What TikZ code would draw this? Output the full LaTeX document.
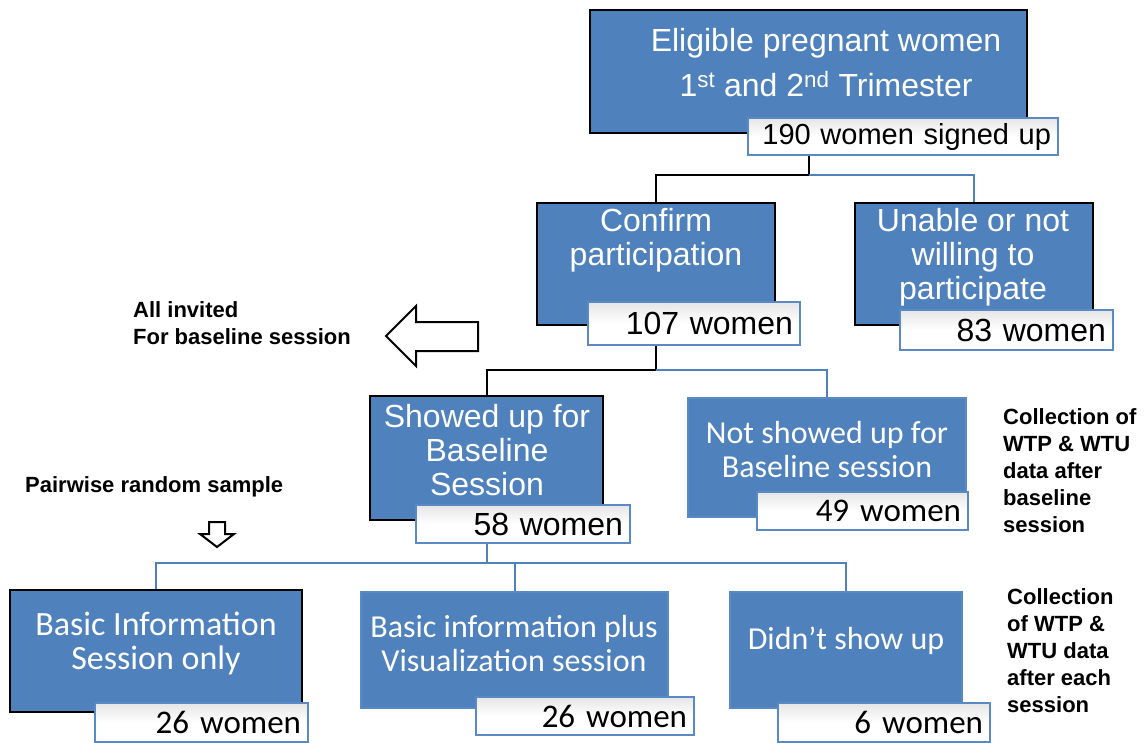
\documentclass[tikz,border=0pt]{standalone}
\usepackage{fontspec}
\setmainfont{Liberation Sans}
\newfontfamily\calfont{Carlito}
\definecolor{obl}{HTML}{4F81BD}
\definecolor{lbl}{HTML}{5A8AC6}
\begin{document}
\begin{tikzpicture}[x=1pt,y=-1pt,
  box/.style={rectangle, draw=lbl, line width=1.2pt, fill=obl, inner sep=0pt},
  bbox/.style={box, draw=black, line width=2.4pt},
  lab/.style={rectangle, draw=lbl, line width=2pt, top color=black!10, bottom color=white, middle color=white, inner xsep=7pt, inner ysep=0pt, align=right},
  wt/.style={text=white, align=center, inner sep=0pt},
  arial/.style={font=\fontsize{32}{34}\selectfont},
  calib/.style={font=\calfont\fontsize{32}{34}\selectfont},
  side/.style={font=\fontsize{22}{27}\selectfont\bfseries, align=left, inner sep=0pt, anchor=west},
  blk/.style={draw=black, line width=2pt},
  bln/.style={draw=obl, line width=2pt},
  hollow/.style={draw=black, line width=2pt, fill=white, line join=miter}
]
\useasboundingbox (0,0) rectangle (1147,742);

% boxes
\node[bbox, minimum width=437pt, minimum height=123pt] (top) at (808.5,71.5) {};
\node[bbox, minimum width=238pt, minimum height=122pt] (confirm) at (656,264) {};
\node[bbox, minimum width=238pt, minimum height=122pt] (unable) at (974,264) {};
\node[bbox, minimum width=233pt, minimum height=124pt] (showed) at (486.5,458) {};
\node[box, minimum width=278pt, minimum height=119pt] (notshow) at (827,457.5) {};
\node[bbox, minimum width=292pt, minimum height=122pt] (basic) at (156,651) {};
\node[box, minimum width=307pt, minimum height=116pt] (middle) at (514.5,650) {};
\node[box, minimum width=232pt, minimum height=116pt] (didnt) at (846,650) {};

% box texts
\node[wt, font=\fontsize{32}{45}\selectfont] (ttop) at (826,63) {Eligible pregnant women\\1\textsuperscript{st} and 2\textsuperscript{nd} Trimester};
\node[wt, arial] (tconfirm) at (656,240) {Confirm\\participation};
\node[wt, arial] (tunable) at (973,257) {Unable or not\\willing to\\participate};
\node[wt, arial] (tshowed) at (487,450) {Showed up for\\Baseline\\Session};
\node[wt, calib] (tnotshow) at (827,449) {Not showed up for\\Baseline session};
\node[wt, font=\calfont\fontsize{34}{34}\selectfont] (tbasic) at (156,643) {Basic Information\\Session only};
\node[wt, calib] (tmiddle) at (514,643) {Basic information plus\\Visualization session};
\node[wt, calib] (tdidnt) at (846,641) {Didn’t show up};

% count labels
\node[lab, text width=296pt, minimum height=37pt, font=\fontsize{29}{30}\selectfont] (l190) at (903,136.5) {190 women signed up};
\node[lab, text width=198pt, minimum height=43pt, arial] (l107) at (694,323.5) {107 women};
\node[lab, text width=199pt, minimum height=40pt, arial] (l83) at (1006.5,330) {83 women};
\node[lab, text width=200pt, minimum height=38pt, arial] (l58) at (523,524) {58 women};
\node[lab, text width=197pt, minimum height=38pt, font=\calfont\fontsize{33}{34}\selectfont] (l49) at (862.5,511) {49 women};
\node[lab, text width=199pt, minimum height=39pt, font=\calfont\fontsize{33}{34}\selectfont] (l26a) at (201.5,722.5) {26 women};
\node[lab, text width=204pt, minimum height=38pt, font=\calfont\fontsize{33}{34}\selectfont] (l26b) at (585,716) {26 women};
\node[lab, text width=198pt, minimum height=39pt, font=\calfont\fontsize{33}{34}\selectfont] (l6) at (884,722.5) {6 women};

% connectors
\coordinate (j1) at (top.south |- 0,175);
\draw[blk] (l190.south -| top.south) -- (j1) -| (confirm.north);
\draw[bln] (j1) -| (unable.north);
\coordinate (j2) at (confirm.south |- 0,370);
\draw[blk] (l107.south -| confirm.south) -- (j2) -| (showed.north);
\draw[bln] (j2) -| (notshow.north);
\coordinate (j3) at (showed.south |- 0,563);
\draw[bln] (l58.south -| showed.south) -- (j3) -| (basic.north);
\draw[bln] (j3) -| (middle.north);
\draw[bln] (j3) -| (didnt.north);

% hollow arrows
\draw[hollow] (386,336) -- (416,306) -- (416,322) -- (478,322) -- (478,351) -- (416,351) -- (416,366) -- cycle;
\draw[hollow] (209,522) -- (225,522) -- (225,534) -- (234,534) -- (217,547) -- (200,534) -- (209,534) -- cycle;

% side notes
\node[side] (tall) at (133,323.5) {All invited\\For baseline session};
\node[side] (tpair) at (25,487) {Pairwise random sample};
\node[side] (tcoll1) at (1003,470.5) {Collection of\\WTP \& WTU\\data after\\baseline\\session};
\node[side] (tcoll2) at (1007,651) {Collection\\of WTP \&\\WTU data\\after each\\session};
\end{tikzpicture}
\end{document}
